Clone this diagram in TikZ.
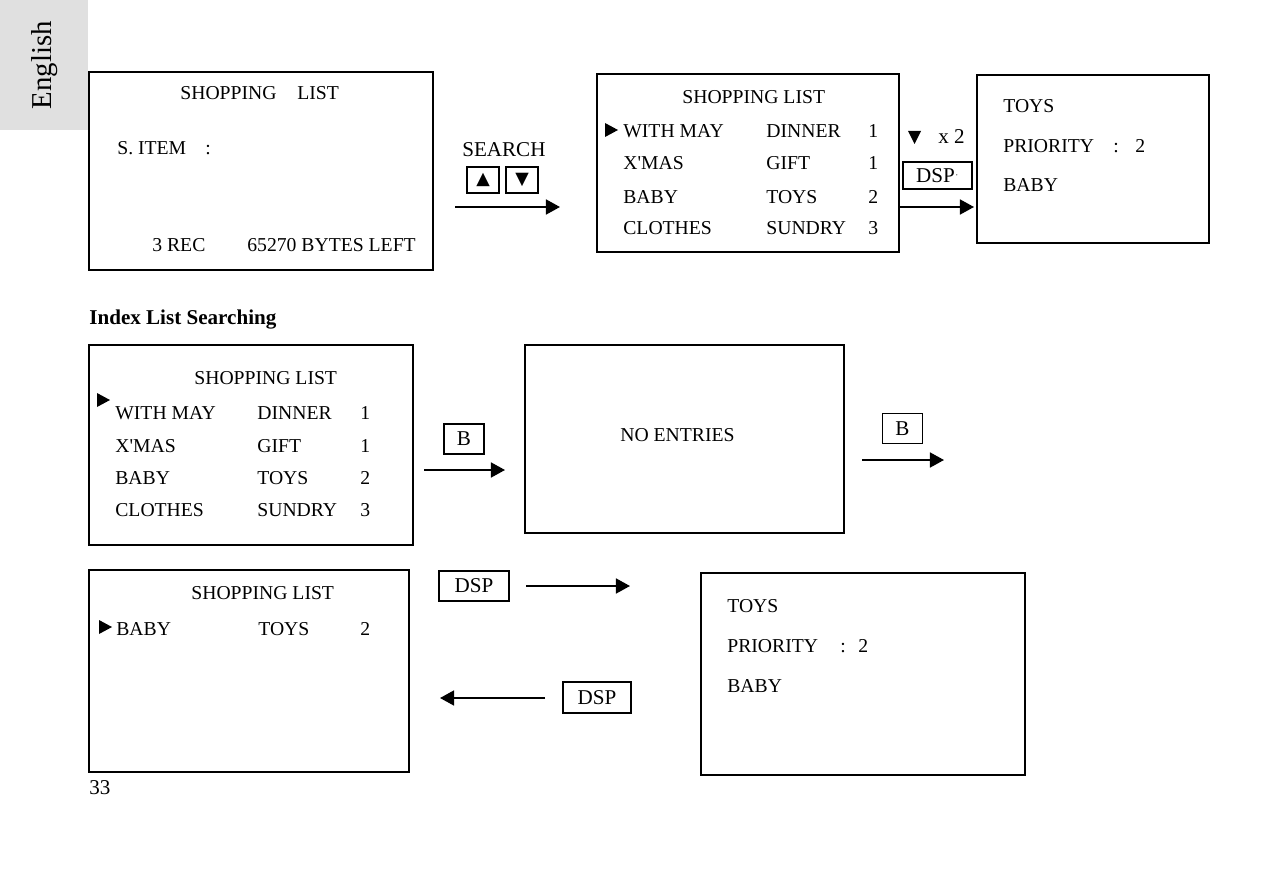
\documentclass[tikz,border=0pt]{standalone}
\usepackage{fontspec}
\setmainfont{Liberation Serif}
\newfontfamily\symfont{DejaVu Sans}
\usetikzlibrary{arrows.meta}
\tikzset{
  screen/.style={draw=black,line width=1.1pt},
  key/.style={draw=black,line width=1pt,inner sep=0pt,minimum height=0.6cm,
    font=\fontsize{12}{14}\selectfont},
  txt/.style={anchor=base west,inner sep=0pt,font=\fontsize{11.2}{13}\selectfont},
  flow/.style={draw=black,line width=1.1pt,-{Triangle[length=8pt,width=8.5pt]}},
}
\newcommand{\pointer}[2]{\fill (#1,#2-7) -- (#1+13,#2) -- (#1,#2+7) -- cycle;}

\begin{document}
\begin{tikzpicture}[x=0.02cm,y=-0.02cm]
\useasboundingbox (0,0) rectangle (1263,885);
% language tab
\fill[black!12] (0,0) rectangle (88,130);
\node[rotate=90,inner sep=0pt,font=\fontsize{16.4}{18}\selectfont] (tab) at (45,65) {English};
% screens
\draw[screen] (89,72) rectangle (433,270);
\draw[screen] (597,74) rectangle (899,252);
\draw[screen] (977,75) rectangle (1209,243);
\draw[screen] (89,345) rectangle (413,545);
\draw[screen] (525,345) rectangle (844,533);
\draw[screen] (89,570) rectangle (409,772);
\draw[screen] (701,573) rectangle (1025,775);
% screen 1
\node[txt] (t1a) at (180,100) {SHOPPING};
\node[txt] (t1b) at (297,100) {LIST};
\node[txt] (t1c) at (117,155) {S. ITEM};
\node[txt] (t1d) at (205,155) {:};
\node[txt] (t1e) at (152,251) {3 REC};
\node[txt] (t1f) at (247,251) {65270 BYTES LEFT};
% search keys
\node[txt,font=\fontsize{12}{14}\selectfont] (search) at (462,157) {SEARCH};
\node[key,minimum width=0.64cm,minimum height=0.52cm] (kup) at (483,180) {\symfont\fontsize{10}{10}\selectfont ▲};
\node[key,minimum width=0.64cm,minimum height=0.52cm] (kdown) at (522,180) {\symfont\fontsize{10}{10}\selectfont ▼};
\coordinate (a1s) at (455,207);
\coordinate (a1e) at (560,207);
\draw[flow] (a1s) -- (a1e);
% screen 2
\node[txt] (t2a) at (682,104) {SHOPPING LIST};
\pointer{605}{130}
\node[txt] (t2b) at (623,138) {WITH MAY};
\node[txt] (t2c) at (766,138) {DINNER};
\node[txt] (t2d) at (868,138) {1};
\node[txt] (t2e) at (623,170) {X\textquotesingle MAS};
\node[txt] (t2f) at (766,170) {GIFT};
\node[txt] (t2g) at (868,170) {1};
\node[txt] (t2h) at (623,203) {BABY};
\node[txt] (t2i) at (766,203) {TOYS};
\node[txt] (t2j) at (868,203) {2};
\node[txt] (t2k) at (623,235) {CLOTHES};
\node[txt] (t2l) at (766,235) {SUNDRY};
\node[txt] (t2m) at (868,235) {3};
% down x 2, DSP
\fill (908,131) -- (921,131) -- (914.5,144) -- cycle;
\node[txt,font=\fontsize{12}{14}\selectfont] (times) at (938,144) {x 2};
\node[key,minimum width=1.38cm,minimum height=0.54cm] (kdsp) at (937.5,175.5) {DSP\raisebox{0.5ex}{\tiny$\cdot$}};
\coordinate (a2s) at (899,207);
\coordinate (a2e) at (974,207);
\draw[flow] (a2s) -- (a2e);
% screen 3
\node[txt] (t3a) at (1003,113) {TOYS};
\node[txt] (t3b) at (1003,153) {PRIORITY};
\node[txt] (t3c) at (1113,153) {:};
\node[txt] (t3d) at (1135,153) {2};
\node[txt] (t3e) at (1003,192) {BABY};
% heading
\node[txt,font=\fontsize{12}{14}\selectfont\bfseries] (head) at (89,324) {Index List Searching};
% screen 4
\node[txt] (t4a) at (194,384) {SHOPPING LIST};
\pointer{97}{400}
\node[txt] (t4b) at (115,419) {WITH MAY};
\node[txt] (t4c) at (257,419) {DINNER};
\node[txt] (t4d) at (360,419) {1};
\node[txt] (t4e) at (115,452) {X\textquotesingle MAS};
\node[txt] (t4f) at (257,452) {GIFT};
\node[txt] (t4g) at (360,452) {1};
\node[txt] (t4h) at (115,484) {BABY};
\node[txt] (t4i) at (257,484) {TOYS};
\node[txt] (t4j) at (360,484) {2};
\node[txt] (t4k) at (115,516) {CLOTHES};
\node[txt] (t4l) at (257,516) {SUNDRY};
\node[txt] (t4m) at (360,516) {3};
% B keys
\node[key,minimum width=0.8cm] (kb1) at (464,439) {B};
\coordinate (a3s) at (424,470);
\coordinate (a3e) at (505,470);
\draw[flow] (a3s) -- (a3e);
\node[txt] (t5a) at (620,441) {NO ENTRIES};
\node[key,minimum width=0.8cm] (kb2) at (902.5,428.5) {B};
\coordinate (a4s) at (862,460);
\coordinate (a4e) at (944,460);
\draw[flow] (a4s) -- (a4e);
% screen 6
\node[txt] (t6a) at (191,599) {SHOPPING LIST};
\pointer{99}{627}
\node[txt] (t6b) at (116,635) {BABY};
\node[txt] (t6c) at (258,635) {TOYS};
\node[txt] (t6d) at (360,635) {2};
% DSP keys
\node[key,minimum width=1.4cm] (kdsp1) at (474,586) {DSP};
\coordinate (a5s) at (526,586);
\coordinate (a5e) at (630,586);
\draw[flow] (a5s) -- (a5e);
\node[key,minimum width=1.36cm,minimum height=0.62cm] (kdsp2) at (597,697.5) {DSP};
\coordinate (a6s) at (545,698);
\coordinate (a6e) at (440,698);
\draw[flow] (a6s) -- (a6e);
% screen 7
\node[txt] (t7a) at (727,612) {TOYS};
\node[txt] (t7b) at (727,652) {PRIORITY};
\node[txt] (t7c) at (840,652) {:};
\node[txt] (t7d) at (858,652) {2};
\node[txt] (t7e) at (727,692) {BABY};
% page number
\node[txt,font=\fontsize{12}{14}\selectfont] (page) at (89,794) {33};
\end{tikzpicture}
\end{document}
